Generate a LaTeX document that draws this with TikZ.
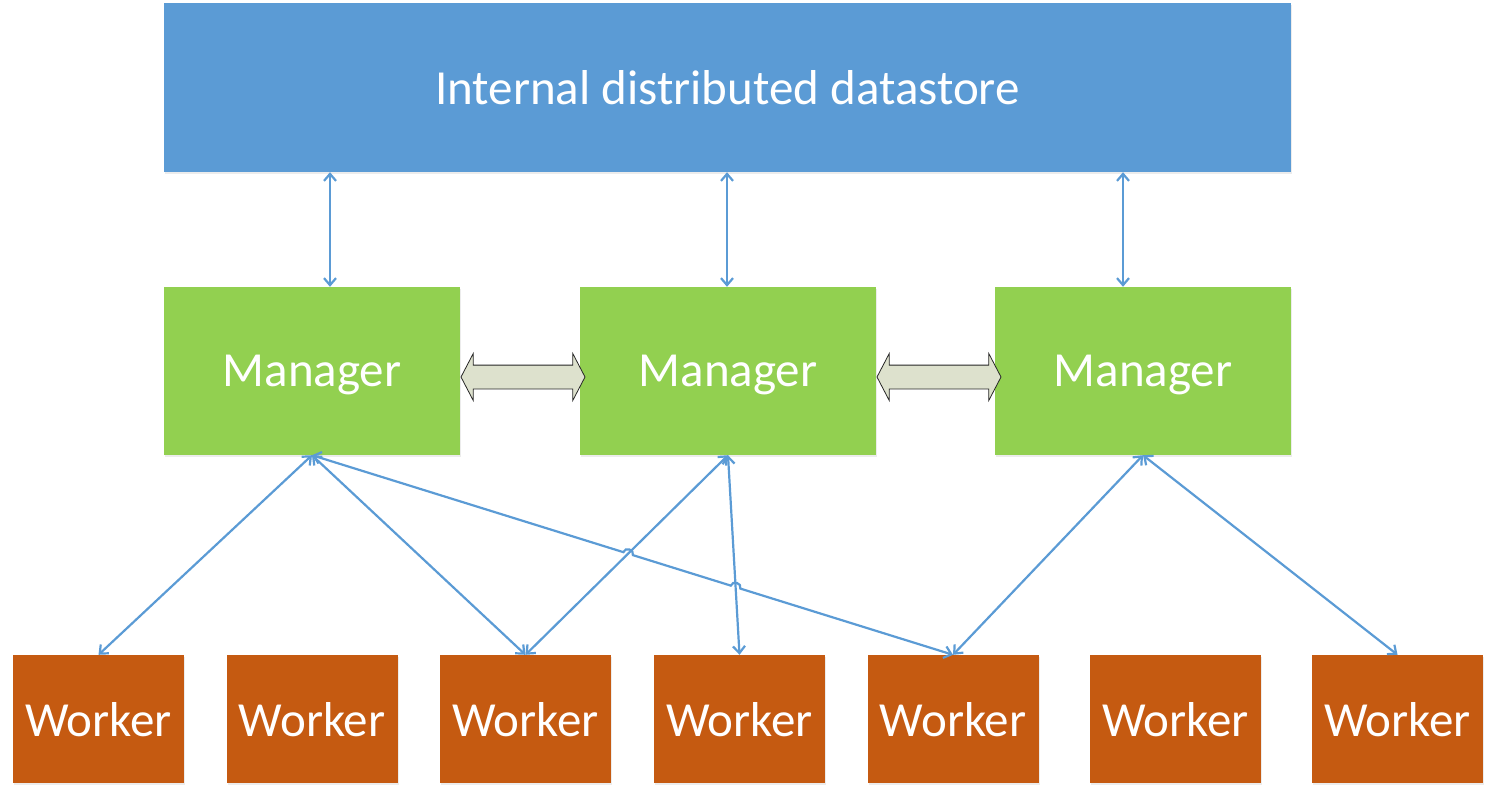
\documentclass[tikz,border=0pt]{standalone}
\usepackage{fontspec}
\setmainfont{Carlito}
\usetikzlibrary{arrows.meta,shapes.arrows,intersections,calc,shadows}
\definecolor{dsblue}{HTML}{5B9BD5}
\definecolor{mgreen}{HTML}{92D050}
\definecolor{worange}{HTML}{C55A11}
\definecolor{bafill}{RGB}{221,225,205}
\tikzset{
	>={Straight Barb[length=7pt,width=12pt]},
	box/.style={rectangle,inner sep=0pt,text=white,text depth=0pt,font=\fontsize{49}{58}\selectfont,drop shadow={shadow xshift=1pt,shadow yshift=-2pt,opacity=0.15}},
	store/.style={box,fill=dsblue,minimum width=1127pt,minimum height=169pt},
	mgr/.style={box,fill=mgreen,minimum width=296pt,minimum height=168pt},
	wkr/.style={box,fill=worange,minimum width=171pt,minimum height=128pt},
	link/.style={draw=dsblue,line width=2.2pt,<->},
	barrow/.style={double arrow,draw=black!85,fill=bafill,line width=0.8pt,inner xsep=0pt,inner ysep=11.5pt,minimum height=124pt,double arrow head extend=11.5pt,double arrow tip angle=125}
}
\begin{document}
\begin{tikzpicture}[x=1pt,y=-1pt]
						\useasboundingbox (0,0) rectangle (1496,795);
						\node [store] (ds) at (727.5,87.5) {Internal distributed datastore};

						\node [mgr] (m1) at (312,371) {Manager};
						\node [mgr] (m2) at (728,371) {Manager};
						\node [mgr] (m3) at (1143,371) {Manager};

						\node [wkr] (w1) at (98.5,719) {Worker};
						\node [wkr] (w2) at (312,719) {Worker};
						\node [wkr] (w3) at (525.5,719) {Worker};
						\node [wkr] (w4) at (739.5,719) {Worker};
						\node [wkr] (w5) at (953,719) {Worker};
						\node [wkr] (w6) at (1175.5,719) {Worker};
						\node [wkr] (w7) at (1397.5,719) {Worker};

						\node [barrow] (ba1) at (523,377) {};
						\node [barrow] (ba2) at (939,377) {};

						\draw [link] ([xshift=18pt]ds.south -| m1.north) -- ([xshift=18pt]m1.north);
						\draw [link] ([xshift=-1pt]ds.south -| m2.north) -- ([xshift=-1pt]m2.north);
						\draw [link] ([xshift=-20pt]ds.south -| m3.north) -- ([xshift=-20pt]m3.north);

						\draw [link] (m1.south) -- (w1.north);
						\draw [link] (m1.south) -- (w3.north);
						\draw [link,name path=m2w3] (m2.south) -- (w3.north);
						\draw [link,name path=m2w4] (m2.south) -- (w4.north);
						\draw [link] (m3.south) -- (w5.north);
						\draw [link] (m3.south) -- (w7.north);

						% line hops over the two crossings
						\path [name path=m1w5] (m1.south) -- (w5.north);
						\path [name intersections={of=m1w5 and m2w3,by=x1}];
						\path [name intersections={of=m1w5 and m2w4,by=x2}];
						\draw [link] (m1.south) -- ($(x1)!5pt!(m1.south)$) to[bend left=90,looseness=1.5] ($(x1)!5pt!(w5.north)$)
							-- ($(x2)!5pt!(m1.south)$) to[bend left=90,looseness=1.5] ($(x2)!5pt!(w5.north)$) -- (w5.north);
					\end{tikzpicture}
\end{document}
